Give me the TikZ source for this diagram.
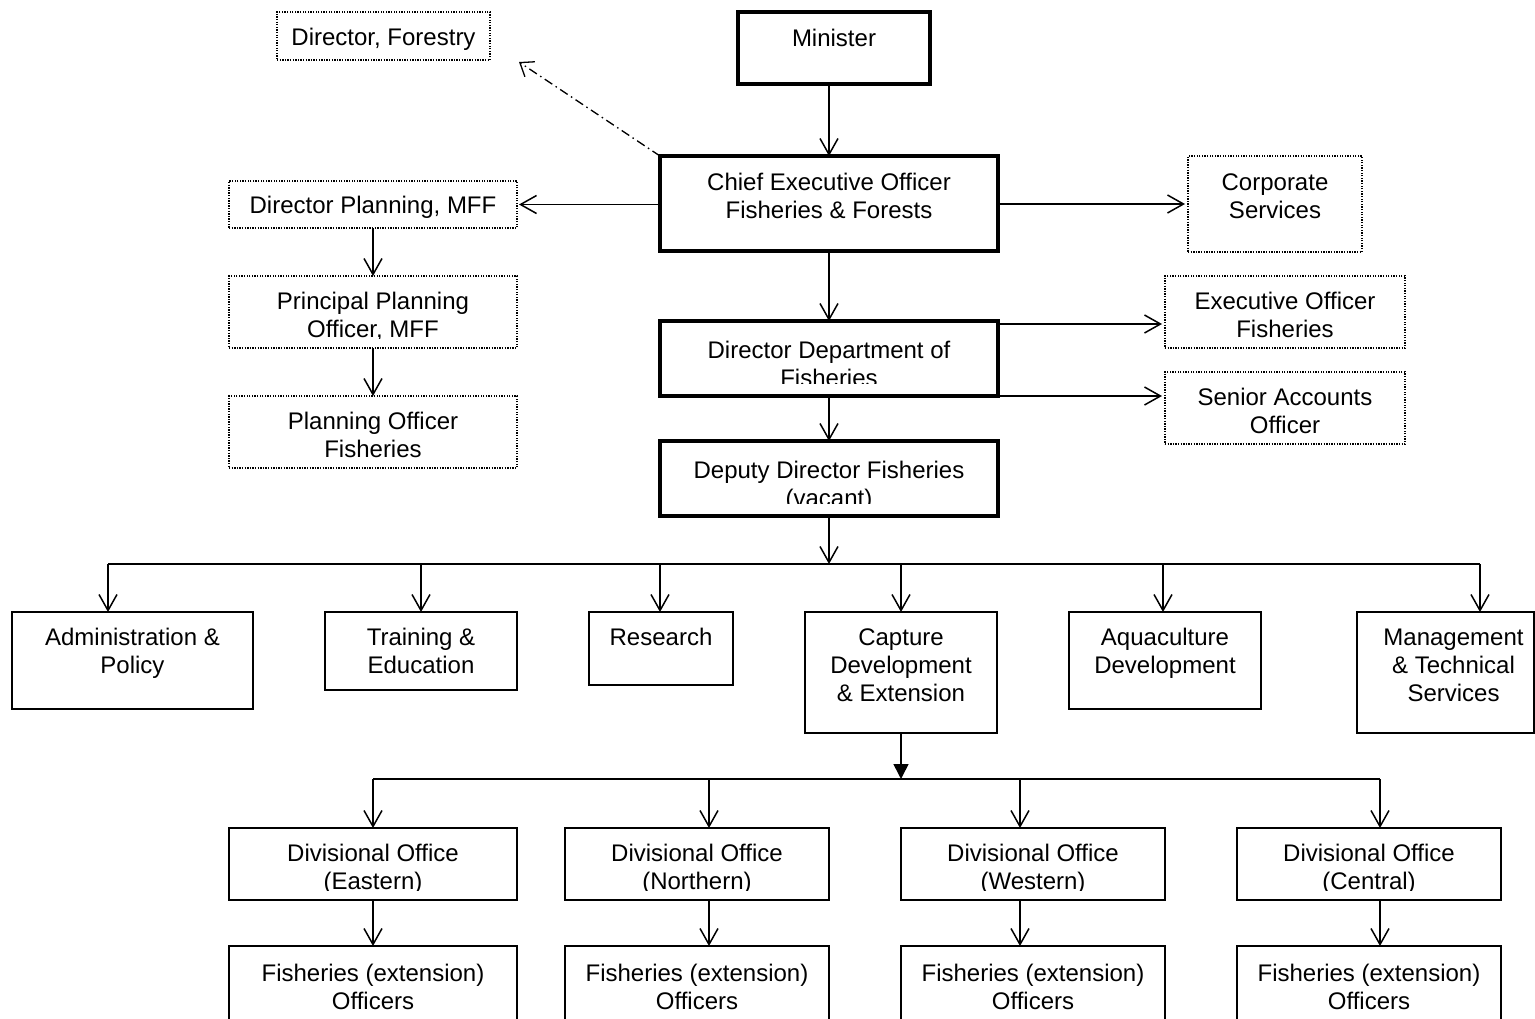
\documentclass[tikz,border=0pt]{standalone}
\usepackage{fontspec}
\setmainfont{Liberation Sans}
\usetikzlibrary{arrows.meta}
\newcommand\fs{\fontsize{24}{28}\selectfont}
\tikzset{
  x=1pt, y=-1pt,
  box/.style={draw, line width=1.6pt, inner sep=0pt, outer sep=0pt, rectangle},
  tbox/.style={box, line width=4pt},
  dbox/.style={box, line width=1.3pt, dash pattern=on 1.3pt off 1.3pt},
  txt/.style={anchor=north, inner sep=0pt, outer sep=0pt, align=center, font=\fs},
  arr/.style={line width=1.5pt, -{Straight Barb[length=16pt,width=18pt]}},
  busline/.style={line width=1.8pt},
  dashdot/.style={line width=1.3pt, dash pattern=on 9pt off 4pt on 1.5pt off 4pt, -{Straight Barb[length=12pt,width=18pt]}},
  filledarr/.style={line width=1.5pt, -{Triangle[length=15pt,width=15pt]}}
}
% [#1] clip distance above bottom, #2 box name, #3 baseline offset from top, #4 x shift, #5 text
\newcommand\boxtext[5][10pt]{%
  \begin{scope}
    \clip ([yshift=#1]#2.south west) rectangle (#2.north east);
    \node[txt] (#2t) at ([xshift=#4, yshift={19.6pt-#3}]#2.north) {\strut #5};
  \end{scope}}
\begin{document}
\begin{tikzpicture}
\useasboundingbox (0,0) rectangle (1535,1018);
\clip (0,0) rectangle (1535,1018);

% top level
\node[dbox, minimum width=213pt, minimum height=48pt] (dfor) at (383.5,36) {};
\node[tbox, minimum width=192pt, minimum height=72pt] (min) at (834,48) {};
\node[tbox, minimum width=338pt, minimum height=95pt] (ceo) at (829,203.5) {};
\node[dbox, minimum width=288pt, minimum height=47pt] (dplan) at (373,204.5) {};
\node[dbox, minimum width=174pt, minimum height=96pt] (corp) at (1275,204) {};
\node[dbox, minimum width=288pt, minimum height=72pt] (ppo) at (373,312) {};
\node[dbox, minimum width=288pt, minimum height=72pt] (plo) at (373,432) {};
\node[dbox, minimum width=240pt, minimum height=72pt] (exo) at (1285,312) {};
\node[dbox, minimum width=240pt, minimum height=72pt] (sao) at (1285,408) {};
\node[tbox, minimum width=338pt, minimum height=75pt] (ddf) at (829,358.5) {};
\node[tbox, minimum width=338pt, minimum height=75pt] (dep) at (829,478.5) {};

% sections
\node[box, minimum width=241pt, minimum height=97pt] (adm) at (132.5,660.5) {};
\node[box, minimum width=192pt, minimum height=78pt] (trn) at (421,651) {};
\node[box, minimum width=144pt, minimum height=73pt] (res) at (661,648.5) {};
\node[box, minimum width=192pt, minimum height=121pt] (cap) at (901,672.5) {};
\node[box, minimum width=192pt, minimum height=97pt] (aqu) at (1165,660.5) {};
\node[box, minimum width=177pt, minimum height=121pt] (mgt) at (1445.5,672.5) {};

% divisional offices
\node[box, minimum width=288pt, minimum height=72pt] (de) at (373,864) {};
\node[box, minimum width=264pt, minimum height=72pt] (dn) at (697,864) {};
\node[box, minimum width=264pt, minimum height=72pt] (dw) at (1033,864) {};
\node[box, minimum width=264pt, minimum height=72pt] (dc) at (1369,864) {};

% extension officers
\node[box, minimum width=288pt, minimum height=90pt] (fe) at (373,991) {};
\node[box, minimum width=264pt, minimum height=90pt] (fn) at (697,991) {};
\node[box, minimum width=264pt, minimum height=90pt] (fw) at (1033,991) {};
\node[box, minimum width=264pt, minimum height=90pt] (fc) at (1369,991) {};

% texts
\boxtext{dfor}{33.5pt}{0pt}{Director, Forestry}
\boxtext{min}{34pt}{0pt}{Minister}
\boxtext{ceo}{34.5pt}{0pt}{Chief Executive Officer\\Fisheries \& Forests}
\boxtext{dplan}{32.5pt}{0pt}{Director Planning, MFF}
\boxtext{corp}{34.5pt}{0pt}{Corporate\\Services}
\boxtext[9.5pt]{ppo}{33.5pt}{0pt}{Principal Planning\\Officer, MFF}
\boxtext{plo}{33.5pt}{0pt}{Planning Officer\\Fisheries}
\boxtext{exo}{33.5pt}{0pt}{Executive Officer\\Fisheries}
\boxtext{sao}{33.5pt}{0pt}{Senior Accounts\\Officer}
\boxtext[12.5pt]{ddf}{37.5pt}{0pt}{Director Department of\\Fisheries}
\boxtext[13pt]{dep}{37.5pt}{0pt}{Deputy Director Fisheries\\(vacant)}
\boxtext{adm}{33.5pt}{0pt}{Administration \&\\Policy}
\boxtext{trn}{33.5pt}{0pt}{Training \&\\Education}
\boxtext{res}{33.5pt}{0pt}{Research}
\boxtext{cap}{33.5pt}{0pt}{Capture\\Development\\\& Extension}
\boxtext{aqu}{33.5pt}{0pt}{Aquaculture\\Development}
\boxtext{mgt}{33.5pt}{8pt}{Management\\\& Technical\\Services}
\boxtext{de}{33.5pt}{0pt}{Divisional Office\\(Eastern)}
\boxtext{dn}{33.5pt}{0pt}{Divisional Office\\(Northern)}
\boxtext{dw}{33.5pt}{0pt}{Divisional Office\\(Western)}
\boxtext{dc}{33.5pt}{0pt}{Divisional Office\\(Central)}
\boxtext{fe}{35.5pt}{0pt}{Fisheries (extension)\\Officers}
\boxtext{fn}{35.5pt}{0pt}{Fisheries (extension)\\Officers}
\boxtext{fw}{35.5pt}{0pt}{Fisheries (extension)\\Officers}
\boxtext{fc}{35.5pt}{0pt}{Fisheries (extension)\\Officers}

% top connectors
\draw[arr] (min.south -| ceo.north) -- (ceo.north);
\draw[dashdot] (ceo.north west) -- ([xshift=29pt,yshift=-2pt]dfor.south east);
\draw[arr] (ceo.west |- dplan.east) -- ([xshift=2pt]dplan.east);
\draw[arr] (ceo.east |- corp.west) -- ([xshift=-3pt]corp.west);
\draw[arr] (dplan.south) -- (ppo.north);
\draw[arr] (ppo.south) -- (plo.north);
\draw[arr] (ceo.south) -- (ddf.north);
\coordinate (ddfa) at ([yshift=-3pt]ddf.north east);
\draw[arr] (ddfa) -- ([xshift=-3pt]ddfa -| exo.west);
\draw[arr] (ddf.south east) -- ([xshift=-3pt]ddf.south east -| sao.west);
\draw[arr] (ddf.south) -- (dep.north);

% first bus
\coordinate (b1) at (108,564);
\coordinate (b2) at (421,564);
\coordinate (b3) at (660,564);
\coordinate (b4) at (901,564);
\coordinate (b5) at (1163,564);
\coordinate (b6) at (1480,564);
\draw[arr] (dep.south) -- (dep.south |- b1);
\draw[busline] (b1) -- (b6);
\draw[arr] (b1) -- (b1 |- adm.north);
\draw[arr] (b2) -- (b2 |- trn.north);
\draw[arr] (b3) -- (b3 |- res.north);
\draw[arr] (b4) -- (b4 |- cap.north);
\draw[arr] (b5) -- (b5 |- aqu.north);
\draw[arr] (b6) -- (b6 |- mgt.north);

% second bus
\coordinate (c1) at (373,779);
\coordinate (c2) at (709,779);
\coordinate (c3) at (1020,779);
\coordinate (c4) at (1380,779);
\draw[filledarr] (cap.south) -- (cap.south |- c1);
\draw[busline] (c1) -- (c4);
\draw[arr] (c1) -- (c1 |- de.north);
\draw[arr] (c2) -- (c2 |- dn.north);
\draw[arr] (c3) -- (c3 |- dw.north);
\draw[arr] (c4) -- (c4 |- dc.north);
\draw[arr] (c1 |- de.south) -- (c1 |- fe.north);
\draw[arr] (c2 |- dn.south) -- (c2 |- fn.north);
\draw[arr] (c3 |- dw.south) -- (c3 |- fw.north);
\draw[arr] (c4 |- dc.south) -- (c4 |- fc.north);
\end{tikzpicture}
\end{document}
